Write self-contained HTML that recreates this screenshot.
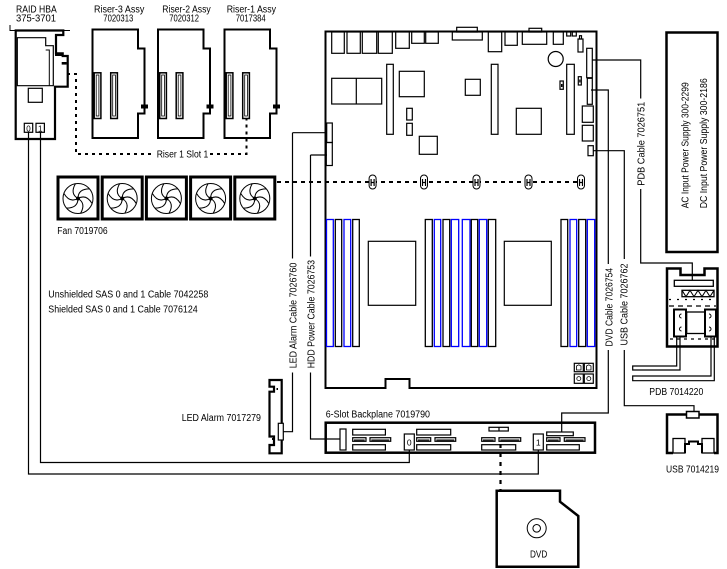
<!DOCTYPE html>
<html><head><meta charset="utf-8"><style>
html,body{margin:0;padding:0;background:#fff;}
svg{display:block;}
text{font-family:"Liberation Sans",sans-serif;font-size:10px;fill:#000;}
</style></head><body>
<svg width="727" height="569" viewBox="0 0 727 569" xmlns="http://www.w3.org/2000/svg">
<rect width="727" height="569" fill="#fff"/>
<defs>
<g id="fan">
 <circle cx="0" cy="0" r="15" fill="none" stroke="#000" stroke-width="1"/>
 <path d="M0,0 Q8.3,-4.8 14.1,5.1 M0,0 Q8.3,4.8 2.6,14.8 M0,0 Q0,9.6 -11.5,9.6 M0,0 Q-8.3,4.8 -14.1,-5.1 M0,0 Q-8.3,-4.8 -2.6,-14.8 M0,0 Q0,-9.6 11.5,-9.6" fill="none" stroke="#000" stroke-width="1"/>
 <circle r="2" fill="#000"/>
</g>
<g id="riser" fill="none" stroke="#000">
 <path d="M0,0 H45.5 V19 H52 V84 H45.5 V108.5 H0 Z" stroke-width="2"/>
 <rect x="48.5" y="75" width="7" height="4" fill="#000" stroke="none"/>
 <rect x="1.7" y="43.3" width="6.7" height="45.7" stroke-width="1.5"/>
 <rect x="3.7" y="45.5" width="2.7" height="41" stroke-width="0.8"/>
 <rect x="18.2" y="43.3" width="6.7" height="45.7" stroke-width="1.5"/>
 <rect x="20.2" y="45.5" width="2.7" height="41" stroke-width="0.8"/>
</g>
<g id="mk">
 <rect x="-3.5" y="175" width="7" height="14" rx="3.5" fill="#fff" stroke="#000" stroke-width="1"/>
 <path d="M-1.5,179 V186 M1.5,179 V186 M-1.5,182.5 H1.5" stroke="#000" stroke-width="1.2"/>
</g>
</defs>

<!-- RAID HBA -->
<text x="16" y="12.7" textLength="40.7" lengthAdjust="spacingAndGlyphs">RAID HBA</text>
<text x="16" y="21.7" textLength="40" lengthAdjust="spacingAndGlyphs">375-3701</text>
<g fill="none" stroke="#000">
 <path d="M10,25 V30.5 H70" stroke-width="1"/>
 <path d="M15.7,30.5 H63.3 V35 H56 V53.3 H62.7 V56 H67.7 V86.7 H55 V139 H15.7 Z" stroke-width="2.2"/>
 <path d="M17.3,37.7 H45.7 V45.7 H53.3 V85.7 H17.3 Z" stroke-width="1.2"/>
 <path d="M45.7,50 H49.3 V85.7" stroke-width="1"/>
 <rect x="28.3" y="88.3" width="14" height="14" stroke-width="1.2"/>
 <rect x="24.3" y="123.3" width="8.4" height="9" stroke-width="1.2"/>
 <rect x="36" y="123.3" width="8.4" height="9" stroke-width="1.2"/>
</g>
<rect x="55" y="53" width="8" height="3" fill="#000"/>
<rect x="61.7" y="62" width="5" height="2.6" fill="#000"/>
<text x="28.5" y="131.5" font-size="8" text-anchor="middle" style="font-size:8px">0</text>
<text x="40.2" y="131.5" font-size="8" text-anchor="middle" style="font-size:8px">1</text>

<!-- Risers -->
<text x="94" y="12.7" textLength="50.3" lengthAdjust="spacingAndGlyphs">Riser-3 Assy</text>
<text x="103.3" y="21.7" textLength="30" lengthAdjust="spacingAndGlyphs">7020313</text>
<text x="162.3" y="12.7" textLength="48.4" lengthAdjust="spacingAndGlyphs">Riser-2 Assy</text>
<text x="169.3" y="21.7" textLength="29.7" lengthAdjust="spacingAndGlyphs">7020312</text>
<text x="226.7" y="12.7" textLength="49.3" lengthAdjust="spacingAndGlyphs">Riser-1 Assy</text>
<text x="235.7" y="21.7" textLength="30" lengthAdjust="spacingAndGlyphs">7017384</text>
<use href="#riser" transform="translate(92.5,29.5)"/>
<use href="#riser" transform="translate(158,29.5)"/>
<use href="#riser" transform="translate(224.5,29.5)"/>

<path d="M67,74 H76 V154 H155 M210,154 H246.5 V118.5" fill="none" stroke="#000" stroke-width="2" stroke-dasharray="3 4"/>
<text x="156.7" y="157.5" textLength="51.6" lengthAdjust="spacingAndGlyphs">Riser 1 Slot 1</text>

<!-- Fans -->
<g fill="none" stroke="#000" stroke-width="3">
 <rect x="58" y="177" width="40" height="42"/>
 <rect x="102.2" y="177" width="40" height="42"/>
 <rect x="146.4" y="177" width="40" height="42"/>
 <rect x="190.6" y="177" width="40" height="42"/>
 <rect x="234.8" y="177" width="40" height="42"/>
</g>
<use href="#fan" transform="translate(78,198.5)"/>
<use href="#fan" transform="translate(122.2,198.5)"/>
<use href="#fan" transform="translate(166.4,198.5)"/>
<use href="#fan" transform="translate(210.6,198.5)"/>
<use href="#fan" transform="translate(254.8,198.5)"/>
<text x="57.3" y="234" textLength="50.4" lengthAdjust="spacingAndGlyphs">Fan 7019706</text>

<text x="48.3" y="297.3" textLength="160" lengthAdjust="spacingAndGlyphs">Unshielded SAS 0 and 1 Cable 7042258</text>
<text x="48.3" y="312.3" textLength="149.4" lengthAdjust="spacingAndGlyphs">Shielded SAS 0 and 1 Cable 7076124</text>

<!-- Motherboard -->
<path d="M325.5,31.5 H596.5 V388 H409.5 V379 H385.5 V388 H325.5 Z" fill="none" stroke="#000" stroke-width="2"/>
<g fill="none" stroke="#000" stroke-width="1.2">
 <rect x="331.7" y="32" width="12.6" height="21.3"/>
 <rect x="347" y="32" width="13.3" height="21.3"/>
 <rect x="362.3" y="32" width="14.4" height="21.3"/>
 <rect x="378.3" y="32" width="14" height="21.3"/>
 <rect x="395.7" y="32" width="13.6" height="16.3"/>
 <rect x="411.7" y="32" width="12.6" height="11.3"/>
 <rect x="425.7" y="32" width="12.6" height="11.3"/>
 <rect x="452.3" y="32" width="30" height="8"/>
 <rect x="456.7" y="27.3" width="20.6" height="4.7"/>
 <rect x="488.3" y="32" width="13.4" height="19.7"/>
 <rect x="505" y="32" width="12.3" height="13.3"/>
 <rect x="522.3" y="32" width="24.4" height="12.3"/>
 <rect x="529" y="28.3" width="12.7" height="3.7"/>
 <rect x="553.3" y="32" width="10" height="12.3"/>
 <rect x="566.7" y="32" width="4" height="4"/>
 <rect x="572.3" y="32" width="4" height="4"/>
 <rect x="578" y="39" width="5" height="13"/>
 <rect x="579.5" y="35.7" width="2" height="3.3"/>
 <circle cx="555.7" cy="59" r="7.5"/>
 <rect x="331.7" y="78.3" width="50" height="25.7"/>
 <path d="M356.3,78.3 V104"/>
 <rect x="386.7" y="64.3" width="6.6" height="70"/>
 <rect x="399.3" y="71.3" width="25" height="25.4"/>
 <rect x="406.7" y="108.3" width="5.6" height="11.7"/>
 <rect x="406.7" y="123.3" width="5.6" height="12"/>
 <rect x="419.3" y="136.3" width="18" height="18"/>
 <rect x="465.3" y="79.3" width="15" height="16"/>
 <rect x="491.3" y="64.3" width="6.7" height="70"/>
 <rect x="516.3" y="108.3" width="25" height="26"/>
 <rect x="566.7" y="64.3" width="7.6" height="70"/>
 <rect x="560" y="81" width="3.3" height="8.3"/>
 <rect x="578.3" y="76.7" width="3" height="8.3"/>
 <rect x="586.7" y="48.3" width="5.6" height="29.4"/>
 <rect x="587.3" y="78.3" width="5" height="26"/>
 <rect x="582.3" y="106" width="11" height="16.3"/>
 <rect x="582.3" y="125.3" width="11" height="15.7"/>
 <rect x="588" y="145.7" width="5.3" height="10"/>
 <rect x="326.7" y="123" width="5.6" height="19.5"/>
 <rect x="326.3" y="142.5" width="6" height="23"/>
 <!-- CPUs -->
 <rect x="368.3" y="241.3" width="47.4" height="64"/>
 <rect x="504.3" y="241.3" width="47" height="64"/>
 <!-- bottom-right small -->
 <rect x="574.3" y="363.3" width="9" height="8.4"/>
 <rect x="584.3" y="363.3" width="9" height="8.4"/>
 <rect x="574.3" y="374" width="9" height="9.3"/>
 <rect x="584.3" y="374" width="9" height="9.3"/>
 <path d="M576.5,370 V366 L578.8,364.8 L581,366 V370 Z M586.5,370 V366 L588.8,364.8 L591,366 V370 Z" stroke-width="0.8"/>
 <circle cx="578.8" cy="378.6" r="2" stroke-width="0.8"/>
 <circle cx="588.8" cy="378.6" r="2" stroke-width="0.8"/>
</g>
<rect x="561" y="84" width="1.5" height="3" fill="#000"/>
<rect x="579.2" y="79.5" width="1.3" height="3" fill="#000"/>
<!-- DIMMs -->
<g fill="none" stroke-width="1.3">
 <rect x="326.5" y="219.5" width="6.8" height="127" stroke="#00f"/>
 <rect x="335.3" y="219.5" width="6.4" height="127" stroke="#000"/>
 <rect x="344" y="219.5" width="6.7" height="127" stroke="#00f"/>
 <rect x="352.7" y="219.5" width="6.6" height="127" stroke="#000"/>
 <rect x="425.3" y="219.5" width="7" height="127" stroke="#000"/>
 <rect x="434.3" y="219.5" width="6.4" height="127" stroke="#00f"/>
 <rect x="443" y="219.5" width="6.7" height="127" stroke="#000"/>
 <rect x="451.3" y="219.5" width="7.4" height="127" stroke="#00f"/>
 <rect x="462.3" y="219.5" width="7.7" height="127" stroke="#00f"/>
 <rect x="471.3" y="219.5" width="6.4" height="127" stroke="#000"/>
 <rect x="479.3" y="219.5" width="7.4" height="127" stroke="#00f"/>
 <rect x="488.3" y="219.5" width="7.4" height="127" stroke="#000"/>
 <rect x="561" y="219.5" width="6.7" height="127" stroke="#000"/>
 <rect x="570" y="219.5" width="6.7" height="127" stroke="#00f"/>
 <rect x="578.7" y="219.5" width="7" height="127" stroke="#000"/>
 <rect x="587.3" y="219.5" width="7.4" height="127" stroke="#00f"/>
</g>

<!-- fan dotted line + markers -->
<path d="M277,182 H581" stroke="#000" stroke-width="2" stroke-dasharray="4 4"/>
<use href="#mk" transform="translate(372.6,0)"/>
<use href="#mk" transform="translate(424,0)"/>
<use href="#mk" transform="translate(476.5,0)"/>
<use href="#mk" transform="translate(528.5,0)"/>
<use href="#mk" transform="translate(581,0)"/>

<!-- cables -->
<g fill="none" stroke="#000" stroke-width="1.2">
 <path d="M292.5,132.7 H327 M292.5,132.7 V258.5 M292.5,372.5 V431.7 H282.7"/>
 <path d="M310.5,155 H327 M310.5,155 V256.5 M310.5,372.5 V439 H340"/>
 <path d="M592,60 H640.7 V98.5 M640.7,189 V263 H692.3 V280.3"/>
 <path d="M591,90 H608.3 V264 M608.3,350 V413 H561.7 V432"/>
 <path d="M593.3,150.7 H624.3 V259 M624.3,350 V405.7 H694 V411.5"/>
 <path d="M28.5,132.3 V474 H538.3 V450"/>
 <path d="M40.5,132.3 V462.5 H409.3 V450"/>
</g>
<text transform="translate(296.5,368.3) rotate(-90)" textLength="105.6" lengthAdjust="spacingAndGlyphs">LED Alarm Cable 7026760</text>
<text transform="translate(314.5,368.3) rotate(-90)" textLength="108.3" lengthAdjust="spacingAndGlyphs">HDD Power Cable 7026753</text>
<text transform="translate(644.7,185.7) rotate(-90)" textLength="84" lengthAdjust="spacingAndGlyphs">PDB Cable 7026751</text>
<text transform="translate(612.3,346.5) rotate(-90)" textLength="78.5" lengthAdjust="spacingAndGlyphs">DVD Cable 7026754</text>
<text transform="translate(627.5,345.5) rotate(-90)" textLength="82" lengthAdjust="spacingAndGlyphs">USB Cable 7026762</text>

<!-- Power supply -->
<rect x="666.5" y="32.5" width="51" height="219.5" fill="none" stroke="#000" stroke-width="2.5"/>
<text transform="translate(688.5,208.3) rotate(-90)" textLength="126" lengthAdjust="spacingAndGlyphs">AC Input Power Supply 300-2299</text>
<text transform="translate(707,208.3) rotate(-90)" textLength="130" lengthAdjust="spacingAndGlyphs">DC Input Power Supply 300-2186</text>

<!-- PDB -->
<g fill="none" stroke="#000">
 <path d="M667,268.5 H680.5 V275 H704.5 V268.5 H717.5 V346.5 H667 Z" stroke-width="2.5"/>
 <rect x="674.3" y="280.3" width="39" height="6" stroke-width="1.3"/>
 <rect x="682" y="290.3" width="32" height="6.4" stroke-width="1.3"/>
 <path d="M682,290.3 L686,296.7 L690,290.3 L694,296.7 L698,290.3 L702,296.7 L706,290.3 L710,296.7 L714,290.3" stroke-width="1"/>
 <path d="M669,299.5 H716" stroke-width="1.2" stroke-dasharray="2 6"/>
 <path d="M669,306 H716" stroke-width="1.2" stroke-dasharray="5 4"/>
 <rect x="674" y="309.5" width="12" height="27" stroke-width="2"/>
 <rect x="705" y="309.5" width="11" height="27" stroke-width="2"/>
 <rect x="686.7" y="312" width="18.3" height="21.5" stroke-width="1.3"/>
 <path d="M670,339 H716" stroke-width="1.2" stroke-dasharray="3 4"/>
 <path d="M681.5,314 A2,2 0 1 0 681.5,318 M681.5,327 A2,2 0 1 0 681.5,331 M709,314 A2,2 0 1 1 709,318 M709,327 A2,2 0 1 1 709,331" stroke-width="1"/>
 <path d="M680,337.5 V370 H632.7 V366 H676.7 V337.5" stroke-width="1.2"/>
 <path d="M714.3,337.5 V380.7 H632.7 V376 H711 V337.5" stroke-width="1.2"/>
</g>
<text x="649.3" y="395" textLength="54" lengthAdjust="spacingAndGlyphs">PDB 7014220</text>

<!-- USB -->
<g fill="none" stroke="#000">
 <path d="M673,453 H667 V414.5 H717.5 V453 H714" stroke-width="2.5"/>
 <rect x="686.5" y="411.5" width="12.5" height="6.5" fill="#fff" stroke-width="1.5"/>
 <rect x="673" y="438.5" width="12" height="14.5" stroke-width="1.3"/>
 <rect x="702" y="438.5" width="12" height="14.5" stroke-width="1.3"/>
 <path d="M685,453 V444 H689 V441.5 H698 V444 H702 V453" stroke-width="2"/>
</g>
<text x="666" y="472.3" textLength="53" lengthAdjust="spacingAndGlyphs">USB 7014219</text>

<!-- LED Alarm -->
<path d="M269.5,380 H281.7 V453.3 H269.5 V445 H274 V436.5 H269.5 V391.7 H274 V386.7 H269.5 Z" fill="none" stroke="#000" stroke-width="2.2"/>
<rect x="278.3" y="423.3" width="5" height="16.7" fill="#fff" stroke="#000" stroke-width="1.2"/>
<rect x="276.5" y="388" width="1.5" height="2" fill="#000"/>
<rect x="272" y="438" width="1.5" height="2" fill="#000"/>
<text x="181.7" y="421" textLength="79.3" lengthAdjust="spacingAndGlyphs">LED Alarm 7017279</text>

<!-- Backplane -->
<text x="325.7" y="417.7" textLength="104.3" lengthAdjust="spacingAndGlyphs">6-Slot Backplane 7019790</text>
<g fill="none" stroke="#000" stroke-width="1.2">
 <rect x="325.7" y="422.7" width="269.3" height="30" stroke-width="2.5"/>
 <rect x="340" y="429" width="6" height="21"/>
 <rect x="352.7" y="429.3" width="32.7" height="5.7"/>
 <rect x="352.7" y="437.7" width="13.3" height="3.6"/>
 <rect x="370" y="437.7" width="20.7" height="3.6"/>
 <rect x="352.7" y="444.7" width="32.7" height="5.3"/>
 <rect x="404.3" y="434" width="10" height="16"/>
 <rect x="416.7" y="429.3" width="34" height="5.7"/>
 <rect x="416.7" y="437.7" width="14" height="3.6"/>
 <rect x="435" y="437.7" width="20.7" height="3.6"/>
 <rect x="416.7" y="444.7" width="34" height="5.3"/>
 <rect x="489" y="427.3" width="19.3" height="3.7"/>
 <path d="M499,427.3 V431"/>
 <rect x="481.7" y="437.7" width="13.3" height="3.6"/>
 <rect x="499" y="437.7" width="21.7" height="3.6"/>
 <rect x="481.7" y="444.7" width="34" height="5.3"/>
 <rect x="533.3" y="434" width="10" height="16"/>
 <rect x="546.7" y="432" width="26.6" height="3.7"/>
 <rect x="546.7" y="437.7" width="13.3" height="3.6"/>
 <rect x="564.3" y="437.7" width="20.7" height="3.6"/>
 <rect x="546.7" y="444.7" width="32.6" height="5.3"/>
</g>
<g fill="#000">
 <rect x="354" y="439.5" width="10.7" height="1.2"/>
 <rect x="371.3" y="439.5" width="18" height="1.2"/>
 <rect x="418" y="439.5" width="11.4" height="1.2"/>
 <rect x="436.3" y="439.5" width="18" height="1.2"/>
 <rect x="483" y="439.5" width="10.7" height="1.2"/>
 <rect x="500.3" y="439.5" width="19" height="1.2"/>
 <rect x="548" y="439.5" width="10.7" height="1.2"/>
 <rect x="565.6" y="439.5" width="18" height="1.2"/>
</g>
<text x="409.3" y="445.5" text-anchor="middle" style="font-size:8.5px">0</text>
<text x="538.3" y="445.5" text-anchor="middle" style="font-size:8.5px">1</text>

<!-- DVD -->
<path d="M500.5,444 V490.5" stroke="#000" stroke-width="2.2" stroke-dasharray="4 5"/>
<path d="M496.7,490.7 H560 V501.7 L578.3,516 V566.7 H496.7 Z" fill="none" stroke="#000" stroke-width="2.5"/>
<circle cx="536.7" cy="528.3" r="9.5" fill="none" stroke="#000" stroke-width="1"/>
<circle cx="536.7" cy="528.3" r="3.8" fill="none" stroke="#000" stroke-width="1"/>
<text x="530" y="557.3" textLength="17.3" lengthAdjust="spacingAndGlyphs">DVD</text>
</svg>
</body></html>
